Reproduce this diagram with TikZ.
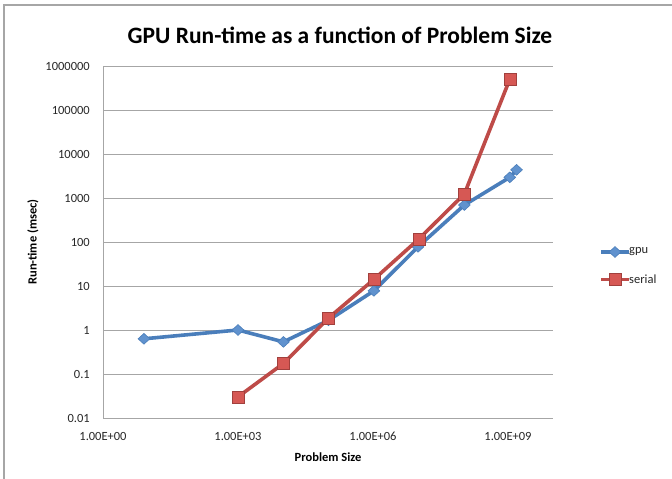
\documentclass[tikz,border=0pt]{standalone}
\usepackage{fontspec}
\setmainfont{Carlito}
\usepackage{tikz}
\usetikzlibrary{calc,shapes.geometric}
\definecolor{gpublue}{RGB}{74,126,187}
\definecolor{gpufill}{RGB}{96,146,206}
\definecolor{serialred}{RGB}{190,75,72}
\definecolor{serialfill}{RGB}{214,88,84}
\tikzset{
	gridline/.style={line width=0.9pt, color=black!35},
	ticklabel/.style={font=\fontsize{12.5}{14}\selectfont, color=black!85, inner sep=0pt},
	axistitle/.style={font=\fontsize{12.5}{14}\selectfont\bfseries, inner sep=0pt},
	gpuline/.style={line width=3.6pt, color=gpublue, line join=round},
	serialline/.style={line width=3.6pt, color=serialred, line join=round},
	gpumark/.style={diamond, draw=gpublue, fill=gpufill, line width=0.6pt, inner sep=0pt, minimum width=12pt, minimum height=11pt},
	serialmark/.style={rectangle, draw=serialred!85!black, fill=serialfill, line width=0.6pt, inner sep=0pt, minimum size=12pt}
}

\begin{document}
\begin{tikzpicture}[x=1pt, y=1pt]
			%%%%% START %%%%%
			\fill[white] (0,0) rectangle (672,479);
			\useasboundingbox (0,0) rectangle (672,479);
			
			% chart frame
			\draw[line width=1.4pt, color=black!35] (4,0) -- (4,474) -- (672,474);
			
			\node[font=\fontsize{23.5}{26}\selectfont\bfseries, inner sep=0pt] (title) at (340,444) {GPU Run-time as a function of Problem Size};
			
			% plot area: one decade = 45pt across, 44pt up
			\begin{scope}[shift={(103,149)}, x=45pt, y=44pt]
			
			\foreach \e/\lab in {-2/0.01, -1/0.1, 0/1, 1/10, 2/100, 3/1000, 4/10000, 5/100000, 6/1000000} {
				\draw[gridline] (0,\e) -- (10,\e);
				\node[ticklabel, anchor=east] at ($(0,\e)+(-13pt,0)$) {\lab};
			}
			\draw[gridline] (0,-2) -- (0,6);
			
			\foreach \e in {0,3,6,9}
				\node[ticklabel] at ($(\e,-2)+(0,-18pt)$) {1.00E+0\e};
			
			\node[axistitle] (xtitle) at ($(5,-2)+(0,-39pt)$) {Problem Size};
			\node[axistitle, rotate=90] (ytitle) at ($(0,2)+(-70pt,0)$) {Run-time (msec)};
			
			% gpu series
			\coordinate (g1) at (0.91,-0.20);
			\coordinate (g2) at (3.00,0.00);
			\coordinate (g3) at (4.01,-0.27);
			\coordinate (g4) at (5.01,0.22);
			\coordinate (g5) at (6.02,0.89);
			\coordinate (g6) at (7.00,1.89);
			\coordinate (g7) at (8.03,2.84);
			\coordinate (g8) at (9.04,3.47);
			\coordinate (g9) at (9.19,3.64);
			\draw[gpuline] (g1) -- (g2) -- (g3) -- (g4) -- (g5) -- (g6) -- (g7) -- (g8) -- (g9);
			\foreach \p in {g1,g2,g3,g4,g5,g6,g7,g8,g9}
				\node[gpumark] at (\p) {};
			
			% serial series
			\coordinate (s1) at (3.00,-1.52);
			\coordinate (s2) at (4.01,-0.76);
			\coordinate (s3) at (5.01,0.27);
			\coordinate (s4) at (6.02,1.15);
			\coordinate (s5) at (7.02,2.07);
			\coordinate (s6) at (8.03,3.09);
			\coordinate (s7) at (9.04,5.70);
			\draw[serialline] (s1) -- (s2) -- (s3) -- (s4) -- (s5) -- (s6) -- (s7);
			\foreach \p in {s1,s2,s3,s4,s5,s6,s7}
				\node[serialmark] at (\p) {};
			
			\end{scope}
			
			% legend
			\coordinate (gpukeyA) at (601,227);
			\coordinate (gpukeyB) at (629,227);
			\draw[gpuline] (gpukeyA) -- (gpukeyB);
			\node[gpumark] at ($(gpukeyA)!0.5!(gpukeyB)$) {};
			\node[ticklabel, anchor=west] (gpukey) at (gpukeyB) {gpu};
			
			\coordinate (serialkeyA) at (601,199.5);
			\coordinate (serialkeyB) at (629,199.5);
			\draw[serialline] (serialkeyA) -- (serialkeyB);
			\node[serialmark] at ($(serialkeyA)!0.5!(serialkeyB)$) {};
			\node[ticklabel, anchor=west] (serialkey) at (serialkeyB) {serial};
			
			%%%%% END %%%%%
\end{tikzpicture}
\end{document}
